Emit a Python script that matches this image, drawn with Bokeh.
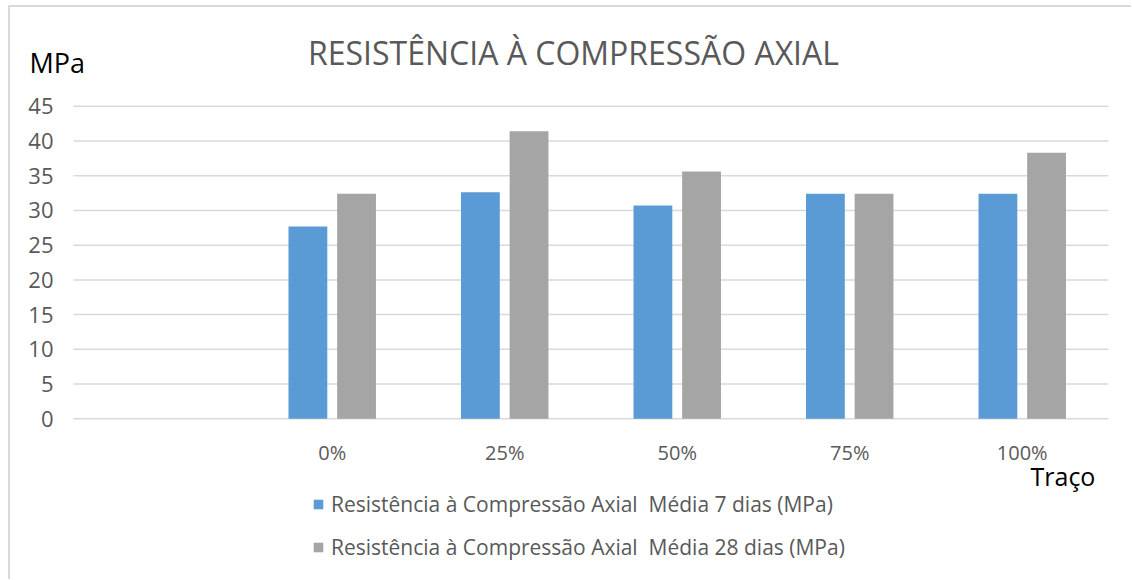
from bokeh.plotting import figure
from bokeh.models import Range1d, Label, LabelSet, Legend, LegendItem, ColumnDataSource
from bokeh.transform import dodge
from bokeh.core.properties import value
from bokeh.embed import file_html
from bokeh.resources import INLINE

# Traços (teor de substituição) e resistências médias
tracos = ["0%", "25%", "50%", "75%", "100%"]
media_7_dias = [27.7, 32.6, 30.7, 32.4, 32.4]
media_28_dias = [32.4, 41.4, 35.6, 32.4, 38.3]
serie_7 = "Resistência à Compressão Axial  Média 7 dias (MPa)"
serie_28 = "Resistência à Compressão Axial  Média 28 dias (MPa)"
ticks_y = [0, 5, 10, 15, 20, 25, 30, 35, 40, 45]

FONT = "Open Sans"
AZUL = "#5B9BD5"
CINZA = "#A5A5A5"
CINZA_TEXTO = "#595959"

# eixo de categorias: uma posição vazia antes dos traços
n_cat = len(tracos) + 1
pos = [i + 1.5 for i in range(len(tracos))]
src = ColumnDataSource(dict(x=pos, traco=tracos, m7=media_7_dias, m28=media_28_dias))

W, H = 1123, 574
p = figure(width=W, height=H,
           x_range=Range1d(-0.365, n_cat + 0.145), y_range=Range1d(-23.42, 59.21),
           output_backend="svg", toolbar_location=None,
           x_axis_location=None, y_axis_location=None,
           min_border=0)
p.margin = (5, 0, 0, 8)
p.styles = {"border-left": "2px solid #D9D9D9", "border-top": "2px solid #D9D9D9"}
p.outline_line_color = None
p.background_fill_color = "white"
p.border_fill_color = "white"
p.grid.visible = False

# linhas de grade horizontais sobre a área das categorias
grade = ColumnDataSource(dict(y=ticks_y, x0=[0] * len(ticks_y), x1=[n_cat] * len(ticks_y),
                              rotulo=[str(t) for t in ticks_y]))
p.segment(x0="x0", x1="x1", y0="y", y1="y", source=grade,
          line_color="#D9D9D9", line_width=1.5)

r7 = p.vbar(x=dodge("x", -0.141), top="m7", width=0.225,
            source=src, fill_color=AZUL, line_color=None)
r28 = p.vbar(x=dodge("x", 0.141), top="m28", width=0.225,
             source=src, fill_color=CINZA, line_color=None)

# rótulos dos eixos
p.add_layout(LabelSet(x=43, y="y", x_units="screen", text="rotulo", source=grade,
                      text_align="right", text_baseline="middle",
                      text_font=value(FONT), text_font_size="22px",
                      text_color=CINZA_TEXTO))
p.add_layout(LabelSet(x="x", y=129, y_units="screen", text="traco", source=src,
                      text_align="center", text_baseline="middle",
                      text_font=value(FONT), text_font_size="20px",
                      text_color=CINZA_TEXTO))

p.add_layout(Label(x=563, y=529, x_units="screen", y_units="screen",
                   text="RESISTÊNCIA À COMPRESSÃO AXIAL", text_align="center",
                   text_baseline="middle", text_font=FONT, text_font_size="32px",
                   text_color=CINZA_TEXTO))
p.add_layout(Label(x=19, y=519, x_units="screen", y_units="screen",
                   text="MPa", text_align="left", text_baseline="middle",
                   text_font=FONT, text_font_size="27px", text_color="#000000"))
p.add_layout(Label(x=1020, y=106, x_units="screen", y_units="screen",
                   text="Traço", text_align="left", text_baseline="middle",
                   text_font=FONT, text_font_size="25px", text_color="#000000"))

legend = Legend(items=[LegendItem(label=serie_7, renderers=[r7]),
                       LegendItem(label=serie_28, renderers=[r28])],
                location=(302, 20), orientation="vertical",
                glyph_width=12, glyph_height=12, label_standoff=7,
                label_height=23, spacing=15, padding=0, margin=0,
                border_line_color=None, background_fill_alpha=0,
                label_text_font=FONT, label_text_font_size="21px",
                label_text_color=CINZA_TEXTO)
p.add_layout(legend)

open("out.html", "w").write(file_html(p, INLINE))
